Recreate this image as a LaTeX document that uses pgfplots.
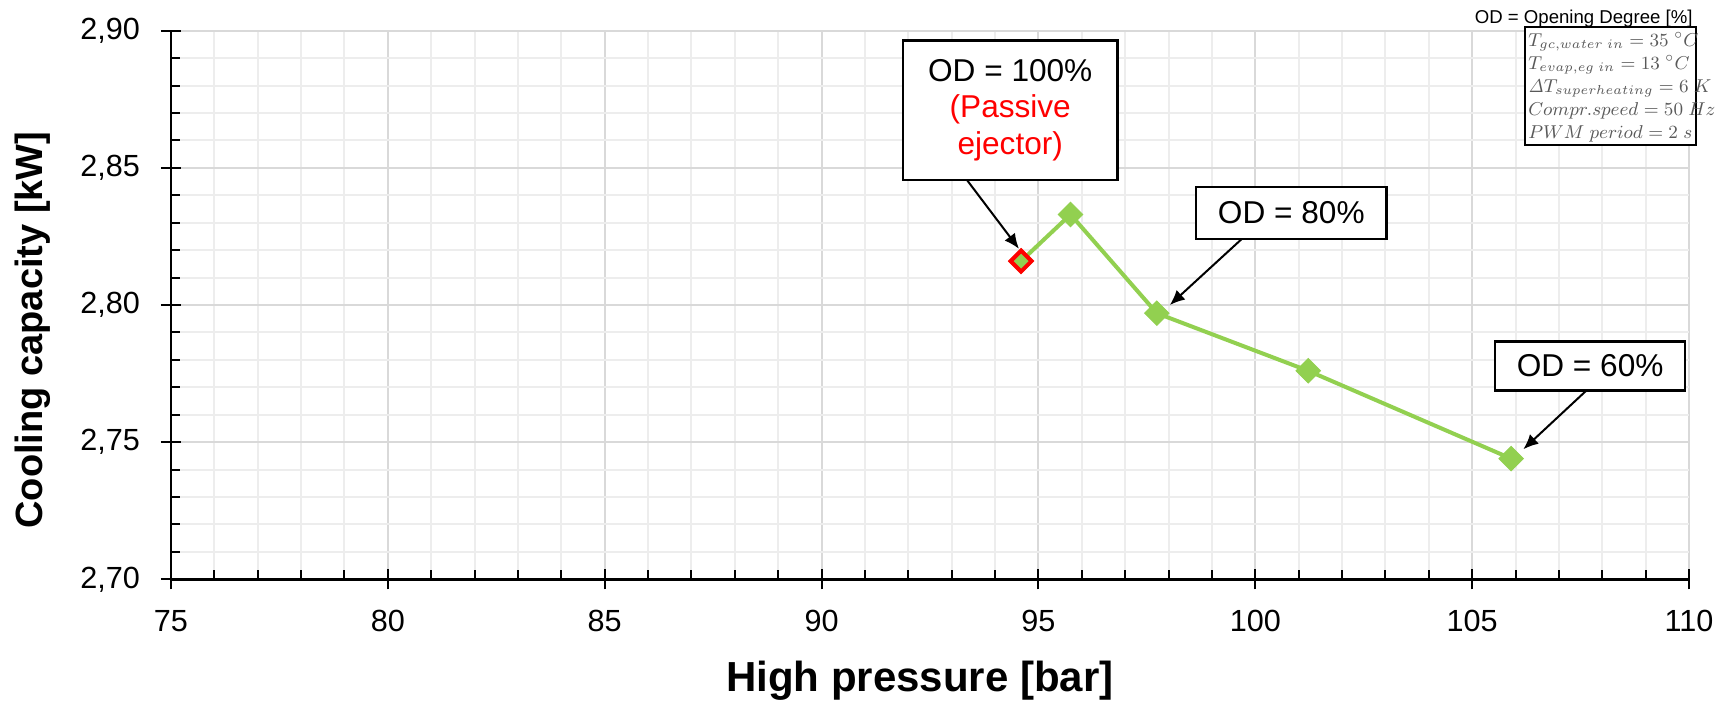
\RequirePackage{fix-cm}
\documentclass[border=0pt]{standalone}
\usepackage[no-math]{fontspec}
\setmainfont{Liberation Sans}
\usepackage{pgfplots}
\pgfplotsset{compat=1.18}
\usetikzlibrary{arrows.meta}

\definecolor{odgreen}{RGB}{146,208,80}
\definecolor{majgrid}{RGB}{217,217,217}
\definecolor{mingrid}{RGB}{237,237,237}
\definecolor{infogray}{RGB}{89,89,89}

\begin{document}
\begin{tikzpicture}
\path[use as bounding box, fill=white] (-85.5pt,-62.35pt) rectangle (778pt,289.65pt);
\begin{axis}[
  at={(0pt,0pt)}, anchor=south west,
  scale only axis, width=759pt, height=274.3pt,
  xmin=75, xmax=110, ymin=2.70, ymax=2.90,
  xtick={75,80,85,90,95,100,105,110},
  ytick={2.70,2.75,2.80,2.85,2.90},
  minor x tick num=4, minor y tick num=4,
  grid=both,
  major grid style={majgrid, line width=1pt},
  minor grid style={mingrid, line width=1pt},
  axis x line*=bottom, axis y line*=left,
  tick pos=left,
  axis line style={line width=1.25pt, -},
  tick style={black, line width=1pt},
  tick align=center,
  major tick length=10pt,
  minor tick length=4.5pt,
  minor x tick style={yshift=2.25pt},
  minor y tick style={xshift=2.25pt},
  /pgf/number format/assume math mode=true,
  ticklabel style={font=\fontsize{15.3}{17}\selectfont, inner sep=0pt},
  yticklabel style={/pgf/number format/.cd, use comma, fixed, fixed zerofill, precision=2},
  xticklabel shift=10.3pt,
  yticklabel shift=10.3pt,
  xlabel={High pressure [bar]},
  ylabel={Cooling capacity [kW]},
  every axis x label/.style={at={(axis description cs:0.4934,-0.2054)}, anchor=base,
    font=\fontsize{21}{25}\selectfont\bfseries},
  every axis y label/.style={at={(axis description cs:-0.0846,0.4544)}, rotate=90, anchor=base,
    font=\fontsize{19}{23}\selectfont\bfseries},
  clip=false,
]
% opening-degree sweep of the ejector
\addplot[odgreen, line width=2pt, mark=square*, mark size=4.3pt,
  mark options={rotate=45, fill=odgreen, draw=odgreen, line width=0.5pt}]
  coordinates {(94.60,2.816) (95.74,2.833) (97.73,2.797) (101.22,2.776) (105.90,2.744)};
% passive ejector operating point
\addplot[only marks, mark=square*, mark size=3.7pt,
  mark options={rotate=45, draw=red, fill=odgreen, line width=2pt}]
  coordinates {(94.60,2.816)};

% annotations
\draw[-{Latex[length=7.5pt,width=6.5pt]}, line width=1pt] (axis cs:93.35,2.8456) -- (axis cs:94.55,2.8205);
\draw[-{Latex[length=7.5pt,width=6.5pt]}, line width=1pt] (axis cs:99.69,2.8241) -- (axis cs:98.03,2.800);
\draw[-{Latex[length=7.5pt,width=6.5pt]}, line width=1pt] (axis cs:107.64,2.7689) -- (axis cs:106.18,2.7474);

\node[draw=black, line width=1.2pt, fill=white, minimum width=107.3pt, minimum height=69.65pt,
  inner sep=0pt, align=center, font=\fontsize{15.8}{18.35}\selectfont]
  at (axis cs:94.35,2.871) {OD = 100\%\\\textcolor{red}{(Passive}\\\textcolor{red}{ejector)}};
\node[draw=black, line width=1.2pt, fill=white, minimum width=95.35pt, minimum height=25.85pt,
  inner sep=0pt, font=\fontsize{15.8}{18.35}\selectfont]
  at (axis cs:100.83,2.8335) {OD = 80\%};
\node[draw=black, line width=1.2pt, fill=white, minimum width=95pt, minimum height=24.5pt,
  inner sep=0pt, font=\fontsize{15.8}{18.35}\selectfont]
  at (axis cs:107.72,2.7778) {OD = 60\%};

% operating conditions
\node[anchor=base east, inner sep=0pt, font=\fontsize{9.3}{11}\selectfont]
  at (axis cs:110.09,2.9028) {OD = Opening Degree [\%]};
\draw[line width=1.3pt, fill=white] (axis cs:106.22,2.9013) rectangle (axis cs:110.16,2.8583);
\node[anchor=north west, inner sep=0pt, align=left, text=infogray,
  font=\fontsize{9.3}{11.45}\selectfont, xshift=1.4pt, yshift=-2.4pt]
  at (axis cs:106.22,2.9013) {%
  $T_{gc,water\;in} = 35\;{}^{\circ}C$\\
  $T_{evap,eg\;in} = 13\;{}^{\circ}C$\\
  $\mathit{\Delta}T_{superheating} = 6\;K$\\
  $Compr.speed = 50\;Hz$\\
  $PWM\;period = 2\;s$};
\end{axis}
\end{tikzpicture}
\end{document}
